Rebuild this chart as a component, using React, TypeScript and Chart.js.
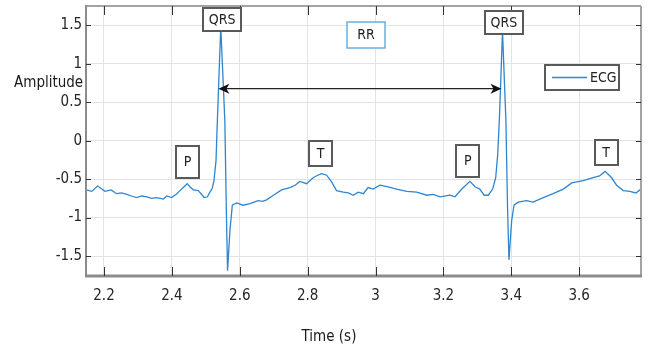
import React, { useEffect, useRef } from "react";
import { Chart, registerables } from "chart.js";

Chart.register(...registerables);

// ECG trace
const timeS = [
  2.147, 2.164, 2.181, 2.203, 2.221, 2.237, 2.252, 2.267, 2.281, 2.296, 2.311, 2.326, 2.34, 2.355,
  2.375, 2.385, 2.399, 2.412, 2.424, 2.436, 2.445, 2.453, 2.463, 2.478, 2.495, 2.505, 2.512, 2.519,
  2.524, 2.53, 2.534, 2.544, 2.556, 2.561, 2.564, 2.571, 2.578, 2.591, 2.61, 2.63, 2.654, 2.667,
  2.679, 2.699, 2.723, 2.748, 2.763, 2.777, 2.797, 2.817, 2.83, 2.841, 2.856, 2.871, 2.885, 2.905,
  2.92, 2.934, 2.949, 2.964, 2.978, 2.993, 3.013, 3.037, 3.062, 3.092, 3.121, 3.151, 3.17, 3.19,
  3.219, 3.234, 3.254, 3.278, 3.293, 3.307, 3.32, 3.332, 3.345, 3.354, 3.36, 3.365, 3.374, 3.384,
  3.389, 3.393, 3.401, 3.408, 3.42, 3.445, 3.464, 3.494, 3.523, 3.553, 3.578, 3.612, 3.641, 3.66,
  3.676, 3.695, 3.71, 3.73, 3.749, 3.767, 3.782,
];
const amplitude = [
  -0.64, -0.66, -0.59, -0.66, -0.64, -0.69, -0.68, -0.7, -0.72, -0.74, -0.72, -0.73, -0.75, -0.74,
  -0.76, -0.72, -0.74, -0.7, -0.65, -0.6, -0.56, -0.6, -0.64, -0.65, -0.74, -0.73, -0.67, -0.62,
  -0.52, -0.26, 0.26, 1.48, 0.26, -1.04, -1.69, -1.17, -0.84, -0.81, -0.84, -0.82, -0.78, -0.79,
  -0.77, -0.71, -0.64, -0.61, -0.58, -0.53, -0.56, -0.48, -0.45, -0.43, -0.45, -0.54, -0.65, -0.67,
  -0.68, -0.71, -0.67, -0.69, -0.61, -0.63, -0.58, -0.6, -0.63, -0.66, -0.67, -0.71, -0.7, -0.73,
  -0.71, -0.73, -0.63, -0.53, -0.6, -0.63, -0.71, -0.71, -0.63, -0.48, -0.17, 0.3, 1.42, 0.26,
  -0.9, -1.55, -1.04, -0.84, -0.8, -0.78, -0.8, -0.74, -0.69, -0.63, -0.55, -0.52, -0.48, -0.46,
  -0.4, -0.48, -0.58, -0.65, -0.66, -0.68, -0.63,
];

const xTicks = [2.2, 2.4, 2.6, 2.8, 3, 3.2, 3.4, 3.6];
const xTickLabels = ["2.2", "2.4", "2.6", "2.8", "3", "3.2", "3.4", "3.6"];
const yTicks = [-1.5, -1, -0.5, 0, 0.5, 1, 1.5];
const yTickLabels = ["-1.5", "-1", "-0.5", "0", "0.5", "1", "1.5"];

// wave annotations (centre of each box in data units)
const waveLabels = ["QRS", "QRS", "RR", "P", "P", "T", "T"];
const waveLabelTime = [2.548, 3.378, 2.972, 2.446, 3.272, 2.838, 3.679];
const waveLabelAmp = [1.578, 1.539, 1.377, -0.273, -0.26, -0.162, -0.149];

// RR interval arrow
const rrStart = 2.537;
const rrEnd = 3.371;
const rrLevel = 0.675;

const FONT = '"Liberation Sans Narrow", "DejaVu Sans Condensed", "Arial Narrow", sans-serif';
const LINE_COLOR = "#2f86d0";

const boxStyle: Record<string, { w: number; h: number; border: string; lw: number }> = {
  QRS: { w: 38, h: 23, border: "#5a5a5a", lw: 2 },
  RR: { w: 38, h: 26, border: "#6aaee0", lw: 1.5 },
  P: { w: 23, h: 32, border: "#5a5a5a", lw: 2 },
  T: { w: 23, h: 25, border: "#5a5a5a", lw: 2 },
};

const decorPlugin = {
  id: "ecgDecor",
  afterDatasetsDraw(chart: any) {
    const { ctx, chartArea: a, scales } = chart;
    const xs = scales.x;
    const ys = scales.y;
    ctx.save();

    // frame
    ctx.lineCap = "butt";
    ctx.strokeStyle = "#a3a3a3";
    ctx.lineWidth = 2;
    ctx.beginPath();
    ctx.moveTo(a.left, a.top);
    ctx.lineTo(a.right, a.top);
    ctx.moveTo(a.right, a.top);
    ctx.lineTo(a.right, a.bottom);
    ctx.stroke();
    ctx.strokeStyle = "#8c8c8c";
    ctx.beginPath();
    ctx.moveTo(a.left, a.top - 1);
    ctx.lineTo(a.left, a.bottom);
    ctx.stroke();
    ctx.lineWidth = 3;
    ctx.beginPath();
    ctx.moveTo(a.left - 1, a.bottom);
    ctx.lineTo(a.right + 1, a.bottom);
    ctx.stroke();

    // inward tick marks
    ctx.strokeStyle = "#333";
    ctx.lineWidth = 1;
    ctx.beginPath();
    xTicks.forEach((v) => {
      const px = Math.round(xs.getPixelForValue(v)) + 0.5;
      ctx.moveTo(px, a.bottom);
      ctx.lineTo(px, a.bottom - 9);
      ctx.moveTo(px, a.top);
      ctx.lineTo(px, a.top + 9);
    });
    yTicks.forEach((v) => {
      const py = Math.round(ys.getPixelForValue(v)) + 0.5;
      ctx.moveTo(a.left, py);
      ctx.lineTo(a.left + 5, py);
      ctx.moveTo(a.right, py);
      ctx.lineTo(a.right - 5, py);
    });
    ctx.stroke();

    // RR arrow
    const ay = ys.getPixelForValue(rrLevel);
    const ax1 = xs.getPixelForValue(rrStart);
    const ax2 = xs.getPixelForValue(rrEnd);
    ctx.strokeStyle = "#222";
    ctx.lineWidth = 1.2;
    ctx.beginPath();
    ctx.moveTo(ax1 + 6, ay);
    ctx.lineTo(ax2 - 6, ay);
    ctx.stroke();
    ctx.fillStyle = "#111";
    const head = (tip: number, dir: number) => {
      ctx.beginPath();
      ctx.moveTo(tip, ay);
      ctx.lineTo(tip + dir * 11, ay - 5);
      ctx.lineTo(tip + dir * 8, ay);
      ctx.lineTo(tip + dir * 11, ay + 5);
      ctx.closePath();
      ctx.fill();
    };
    head(ax1, 1);
    head(ax2, -1);

    // annotation boxes
    ctx.font = `14px ${FONT}`;
    ctx.textAlign = "center";
    ctx.textBaseline = "middle";
    waveLabels.forEach((lab, i) => {
      const s = boxStyle[lab];
      const cx = xs.getPixelForValue(waveLabelTime[i]);
      const cy = ys.getPixelForValue(waveLabelAmp[i]);
      const x0 = Math.round(cx - s.w / 2);
      const y0 = Math.round(cy - s.h / 2);
      ctx.fillStyle = "#fff";
      ctx.fillRect(x0, y0, s.w, s.h);
      ctx.strokeStyle = s.border;
      ctx.lineWidth = s.lw;
      ctx.strokeRect(x0, y0, s.w, s.h);
      ctx.fillStyle = "#222";
      ctx.fillText(lab, cx, cy + 1);
    });

    // legend
    const lx = 545, ly = 65, lw = 74, lh = 25;
    ctx.fillStyle = "#fff";
    ctx.fillRect(lx, ly, lw, lh);
    ctx.strokeStyle = "#5a5a5a";
    ctx.lineWidth = 2;
    ctx.strokeRect(lx, ly, lw, lh);
    ctx.strokeStyle = LINE_COLOR;
    ctx.lineWidth = 1.3;
    ctx.beginPath();
    ctx.moveTo(lx + 7, ly + 12.5);
    ctx.lineTo(lx + 42, ly + 12.5);
    ctx.stroke();
    ctx.fillStyle = "#222";
    ctx.textAlign = "left";
    ctx.fillText(chart.data.datasets[0].label, lx + 45, ly + 13.5);

    // axis titles
    ctx.font = `15px ${FONT}`;
    ctx.fillStyle = "#1a1a1a";
    ctx.textAlign = "left";
    ctx.textBaseline = "alphabetic";
    ctx.fillText("Amplitude", 14, 87);
    ctx.textAlign = "center";
    ctx.fillText("Time (s)", 329, 341);

    ctx.restore();
  },
};

const noPad = (scale: any) => {
  scale.paddingTop = 0;
  scale.paddingBottom = 0;
  scale.paddingLeft = 0;
  scale.paddingRight = 0;
};

export default function App() {
  const ref = useRef<HTMLCanvasElement | null>(null);
  useEffect(() => {
    document.body.style.margin = "0";
    const canvas = ref.current;
    if (!canvas) return;
    const chart = new Chart(canvas, {
      type: "line",
      data: {
        datasets: [
          {
            label: "ECG",
            data: timeS.map((t, i) => ({ x: t, y: amplitude[i] })),
            borderColor: LINE_COLOR,
            borderWidth: 1.3,
            pointRadius: 0,
            tension: 0,
            fill: false,
          },
        ],
      },
      options: {
        responsive: false,
        animation: false,
        devicePixelRatio: 1,
        layout: { padding: { left: 0, top: 6, right: 7, bottom: 0 } },
        plugins: { legend: { display: false }, tooltip: { enabled: false } },
        scales: {
          x: {
            type: "linear",
            min: 2.147,
            max: 3.782,
            afterBuildTicks: (scale: any) => {
              scale.ticks = xTicks.map((v) => ({ value: v }));
            },
            afterFit: (scale: any) => {
              scale.height = 71;
              noPad(scale);
            },
            ticks: {
              padding: 11,
              autoSkip: false,
              maxRotation: 0,
              color: "#262626",
              font: { family: FONT, size: 15 },
              callback: (v: any) => {
                const i = xTicks.findIndex((t) => Math.abs(t - Number(v)) < 1e-6);
                return i >= 0 ? xTickLabels[i] : "";
              },
            },
            grid: { color: "#e3e3e3", lineWidth: 1, drawTicks: false },
            border: { display: false },
          },
          y: {
            type: "linear",
            min: -1.76,
            max: 1.75,
            afterBuildTicks: (scale: any) => {
              scale.ticks = yTicks.map((v) => ({ value: v }));
            },
            afterFit: (scale: any) => {
              scale.width = 86;
              noPad(scale);
            },
            ticks: {
              padding: 4,
              autoSkip: false,
              color: "#262626",
              font: { family: FONT, size: 15 },
              callback: (v: any) => {
                const i = yTicks.findIndex((t) => Math.abs(t - Number(v)) < 1e-6);
                return i >= 0 ? yTickLabels[i] : "";
              },
            },
            grid: { color: "#e3e3e3", lineWidth: 1, drawTicks: false },
            border: { display: false },
          },
        },
      },
      plugins: [decorPlugin],
    });
    return () => chart.destroy();
  }, []);
  return (
    <div style={{ width: 648, height: 347, background: "#fff" }}>
      <canvas ref={ref} width={648} height={347} style={{ display: "block" }} />
    </div>
  );
}
